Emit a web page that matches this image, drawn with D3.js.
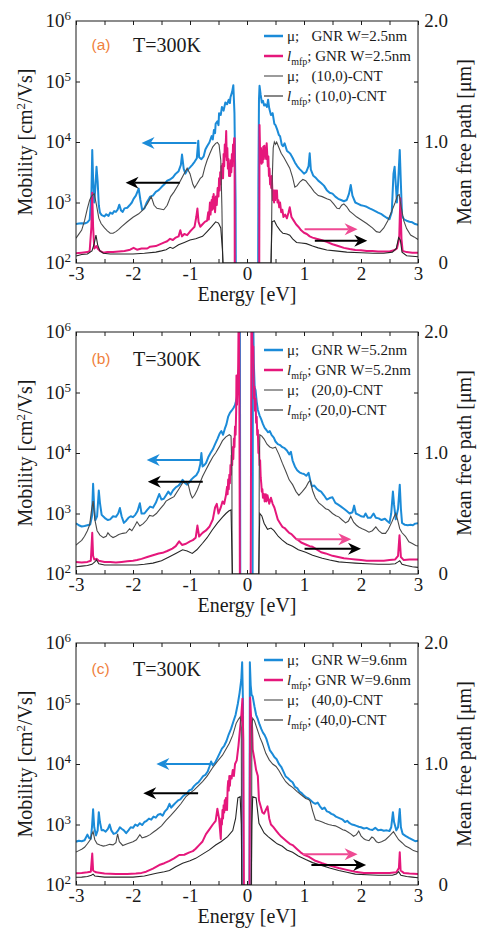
<!DOCTYPE html>
<html><head><meta charset="utf-8">
<script src="https://cdn.jsdelivr.net/npm/d3@7"></script>
<style>body{margin:0;background:#fff}svg{display:block}</style>
</head><body><svg id="c" width="481" height="929"></svg>
<script>
// ---------- DATA (energy [eV], mobility [cm^2/Vs] or mean free path [um]) ----------
const energyDomain = [-3, 3];
const muDomain = [1e2, 1e6];
const mfpDomain = [0, 2];
const xTicks = [-3,-2.5,-2,-1.5,-1,-0.5,0,0.5,1,1.5,2,2.5,3];
const muExponents = [2,3,4,5,6];
const mfpLabels = [0,1,2];
const panelTags = ["(a)","(b)","(c)"];
const gnrWidths = ["2.5nm","5.2nm","9.6nm"];
const cntNames = ["(10,0)-CNT","(20,0)-CNT","(40,0)-CNT"];
const tempLabel = "T=300K";

// Panel (a)
const muGnrA = [[-3,440],[-2.95,450],[-2.9,455],[-2.85,450],[-2.8,470],[-2.76,520],[-2.73,1300],[-2.715,7400],[-2.7,2500],[-2.68,1000],[-2.66,1800],[-2.64,3900],[-2.62,2200],[-2.6,900],[-2.58,680],[-2.55,620],[-2.5,590],[-2.47,640],[-2.43,600],[-2.4,680],[-2.36,650],[-2.33,720],[-2.3,700],[-2.27,760],[-2.24,920],[-2.21,740],[-2.18,700],[-2.15,800],[-2.1,820],[-2.06,900],[-2.02,1000],[-1.99,1150],[-1.95,1300],[-1.9,1700],[-1.87,1100],[-1.84,760],[-1.8,800],[-1.76,1000],[-1.72,1150],[-1.7,1250],[-1.65,1300],[-1.6,1500],[-1.55,1600],[-1.5,1800],[-1.45,2000],[-1.4,2300],[-1.35,2400],[-1.3,2600],[-1.25,3000],[-1.2,3300],[-1.16,4200],[-1.14,6200],[-1.11,3600],[-1.08,3000],[-1.05,3400],[-1,3800],[-0.96,4200],[-0.92,4700],[-0.88,5400],[-0.855,10500],[-0.84,5600],[-0.8,5200],[-0.76,5800],[-0.73,7500],[-0.7,8500],[-0.66,9800],[-0.62,12500],[-0.6,11000],[-0.58,15800],[-0.56,14000],[-0.55,20000],[-0.52,22000],[-0.5,19000],[-0.49,30000],[-0.46,28000],[-0.44,38000],[-0.41,33000],[-0.38,45000],[-0.35,42000],[-0.32,50000],[-0.3,44000],[-0.29,55000],[-0.26,68000],[-0.24,87000],[-0.22,30000],[-0.2,1000],[-0.19,1],null,
 [0.19,1],[0.2,2000],[0.21,50000],[0.22,85000],[0.24,60000],[0.26,45000],[0.28,48000],[0.3,40000],[0.32,42000],[0.35,38000],[0.37,50000],[0.39,36000],[0.42,28000],[0.45,30000],[0.48,20000],[0.5,19000],[0.53,16000],[0.56,13000],[0.58,12500],[0.61,9000],[0.63,8500],[0.66,9500],[0.7,7200],[0.73,6800],[0.76,6400],[0.8,5500],[0.84,4600],[0.88,4000],[0.92,3600],[0.96,3300],[1,3000],[1.04,3200],[1.08,4000],[1.1,6500],[1.12,3500],[1.16,2800],[1.2,2600],[1.25,2300],[1.3,2100],[1.35,1900],[1.4,1600],[1.45,1450],[1.5,1400],[1.55,1250],[1.6,1150],[1.65,1100],[1.7,1050],[1.75,1100],[1.79,1400],[1.82,1950],[1.85,1300],[1.9,1000],[1.95,950],[2,900],[2.05,880],[2.1,850],[2.15,800],[2.2,760],[2.25,720],[2.3,680],[2.35,650],[2.4,600],[2.45,560],[2.5,530],[2.54,700],[2.57,3000],[2.59,3900],[2.61,2000],[2.63,1000],[2.65,2000],[2.68,7400],[2.7,2000],[2.72,600],[2.76,520],[2.8,500],[2.85,480],[2.9,470],[2.95,440],[3,430]];
const mfpGnrA = [[-3,0.08],[-2.9,0.085],[-2.8,0.09],[-2.76,0.1],[-2.73,0.3],[-2.715,0.58],[-2.7,0.3],[-2.68,0.12],[-2.66,0.13],[-2.64,0.14],[-2.62,0.12],[-2.58,0.1],[-2.52,0.085],[-2.45,0.09],[-2.35,0.09],[-2.25,0.095],[-2.15,0.1],[-2.05,0.11],[-1.99,0.125],[-1.93,0.11],[-1.85,0.12],[-1.75,0.12],[-1.7,0.135],[-1.6,0.14],[-1.5,0.16],[-1.45,0.17],[-1.4,0.18],[-1.35,0.2],[-1.3,0.19],[-1.25,0.21],[-1.2,0.22],[-1.17,0.27],[-1.14,0.22],[-1.1,0.24],[-1.05,0.23],[-1,0.26],[-0.96,0.28],[-0.92,0.3],[-0.89,0.38],[-0.87,0.45],[-0.85,0.34],[-0.82,0.3],[-0.78,0.32],[-0.74,0.34],[-0.7,0.35],[-0.68,0.42],[-0.67,0.36],[-0.65,0.5],[-0.64,0.4],[-0.62,0.52],[-0.61,0.44],[-0.6,0.55],[-0.59,0.45],[-0.585,0.57],[-0.57,0.47],[-0.56,0.42],[-0.545,0.55],[-0.53,0.48],[-0.515,0.62],[-0.5,0.55],[-0.49,0.7],[-0.48,0.6],[-0.47,0.75],[-0.46,0.65],[-0.45,0.8],[-0.44,0.7],[-0.43,0.82],[-0.42,0.7],[-0.41,0.9],[-0.4,0.8],[-0.39,0.98],[-0.38,0.88],[-0.365,1.09],[-0.355,0.85],[-0.345,0.95],[-0.335,0.78],[-0.325,0.86],[-0.315,0.72],[-0.305,0.8],[-0.295,0.72],[-0.285,0.85],[-0.275,0.75],[-0.265,0.9],[-0.255,0.8],[-0.245,0.98],[-0.235,0.9],[-0.225,1.03],[-0.218,1.03],[-0.215,0],null,
 [0.215,0],[0.22,1.14],[0.228,0.95],[0.235,0.85],[0.245,0.95],[0.255,0.82],[0.265,0.93],[0.275,0.83],[0.285,0.96],[0.295,0.86],[0.305,0.97],[0.315,0.88],[0.325,0.95],[0.335,0.86],[0.345,0.99],[0.355,0.9],[0.365,0.8],[0.375,0.88],[0.385,0.72],[0.395,0.78],[0.405,0.65],[0.415,0.7],[0.425,0.62],[0.435,0.72],[0.445,0.6],[0.455,0.52],[0.465,0.6],[0.475,0.5],[0.485,0.6],[0.495,0.52],[0.505,0.6],[0.515,0.55],[0.525,0.6],[0.535,0.5],[0.55,0.52],[0.565,0.46],[0.58,0.5],[0.6,0.42],[0.62,0.44],[0.64,0.38],[0.67,0.4],[0.7,0.37],[0.73,0.42],[0.75,0.46],[0.78,0.38],[0.82,0.35],[0.86,0.32],[0.9,0.3],[0.95,0.27],[1,0.25],[1.05,0.24],[1.1,0.22],[1.15,0.21],[1.22,0.2],[1.3,0.19],[1.4,0.175],[1.5,0.155],[1.6,0.14],[1.7,0.125],[1.8,0.115],[1.9,0.107],[2,0.105],[2.1,0.1],[2.2,0.1],[2.3,0.095],[2.4,0.095],[2.5,0.095],[2.58,0.105],[2.63,0.12],[2.67,0.2],[2.69,0.535],[2.71,0.2],[2.73,0.1],[2.8,0.09],[2.9,0.085],[3,0.085]];
const muCntA = [[-3,256],[-2.95,300],[-2.9,350],[-2.85,500],[-2.8,800],[-2.76,1100],[-2.72,1300],[-2.68,1400],[-2.64,900],[-2.6,550],[-2.56,450],[-2.5,380],[-2.45,340],[-2.4,310],[-2.35,310],[-2.3,330],[-2.25,360],[-2.2,400],[-2.1,480],[-2,570],[-1.9,650],[-1.82,760],[-1.75,950],[-1.68,1250],[-1.63,900],[-1.58,800],[-1.52,780],[-1.46,760],[-1.4,900],[-1.34,1250],[-1.28,1500],[-1.2,2000],[-1.12,2800],[-1.05,3700],[-1,3000],[-0.95,2000],[-0.92,1750],[-0.88,2000],[-0.82,2500],[-0.78,2700],[-0.74,3800],[-0.7,5000],[-0.65,6500],[-0.6,8300],[-0.55,9500],[-0.52,9800],[-0.49,9000],[-0.46,5000],[-0.44,800],[-0.42,50],[-0.41,1],null,
 [0.41,1],[0.42,50],[0.44,2000],[0.46,8000],[0.48,10000],[0.5,9200],[0.52,10000],[0.55,8500],[0.6,6500],[0.65,5500],[0.7,4500],[0.75,3700],[0.8,2600],[0.84,1800],[0.88,1900],[0.93,2200],[0.98,2400],[1.03,2300],[1.08,2000],[1.12,1800],[1.18,1500],[1.25,1300],[1.32,1250],[1.4,1150],[1.46,1100],[1.52,950],[1.58,800],[1.62,790],[1.66,900],[1.7,950],[1.75,850],[1.8,720],[1.86,650],[1.92,580],[2,520],[2.1,450],[2.2,380],[2.27,330],[2.33,320],[2.4,380],[2.47,500],[2.54,720],[2.6,1000],[2.64,1300],[2.67,1350],[2.7,900],[2.75,500],[2.8,370],[2.87,290],[2.93,270],[3,245]];
const mfpCntA = [[-3,0.058],[-2.9,0.07],[-2.8,0.075],[-2.72,0.1],[-2.68,0.16],[-2.65,0.23],[-2.62,0.15],[-2.58,0.1],[-2.52,0.08],[-2.4,0.075],[-2.2,0.075],[-2,0.075],[-1.8,0.08],[-1.6,0.09],[-1.5,0.1],[-1.42,0.11],[-1.35,0.13],[-1.3,0.12],[-1.2,0.15],[-1.1,0.17],[-1,0.19],[-0.9,0.2],[-0.84,0.21],[-0.78,0.22],[-0.7,0.26],[-0.62,0.3],[-0.55,0.34],[-0.5,0.33],[-0.46,0.29],[-0.43,0.1],[-0.42,0],[0.42,0],[0.44,0.34],[0.48,0.35],[0.52,0.31],[0.58,0.27],[0.63,0.245],[0.7,0.24],[0.75,0.23],[0.8,0.2],[0.87,0.17],[0.95,0.165],[1.04,0.16],[1.15,0.14],[1.25,0.125],[1.4,0.107],[1.55,0.1],[1.75,0.09],[2,0.085],[2.22,0.08],[2.4,0.08],[2.55,0.09],[2.62,0.12],[2.66,0.21],[2.69,0.19],[2.72,0.09],[2.8,0.06],[3,0.052]];

// Panel (b)
const muGnrB = [[-3,690],[-2.95,640],[-2.9,610],[-2.85,620],[-2.8,640],[-2.75,660],[-2.72,900],[-2.7,3100],[-2.68,1200],[-2.66,780],[-2.63,900],[-2.6,2400],[-2.58,1500],[-2.55,950],[-2.52,890],[-2.48,820],[-2.44,780],[-2.4,800],[-2.35,900],[-2.3,880],[-2.26,1000],[-2.23,1230],[-2.2,900],[-2.16,700],[-2.12,760],[-2.08,850],[-2.04,900],[-2,870],[-1.96,950],[-1.92,1100],[-1.88,1480],[-1.85,1000],[-1.8,1000],[-1.75,1150],[-1.7,1300],[-1.65,1250],[-1.6,1500],[-1.54,2100],[-1.5,1700],[-1.46,1750],[-1.42,2000],[-1.38,2300],[-1.34,2050],[-1.3,2400],[-1.25,2700],[-1.2,2900],[-1.16,3200],[-1.13,3600],[-1.09,3200],[-1.05,3000],[-1.01,3300],[-0.97,3700],[-0.93,4000],[-0.89,4300],[-0.85,5000],[-0.82,6500],[-0.8,10000],[-0.78,6000],[-0.75,6300],[-0.72,6800],[-0.68,8500],[-0.64,10000],[-0.6,11500],[-0.56,14000],[-0.52,17000],[-0.48,21000],[-0.45,23000],[-0.42,20000],[-0.39,25000],[-0.36,30000],[-0.33,40000],[-0.3,46000],[-0.27,50000],[-0.24,55000],[-0.21,62000],[-0.18,80000],[-0.16,120000],[-0.14,300000],[-0.125,3e6],[-0.115,1],null,
 [0.095,1],[0.105,3e6],[0.12,300000],[0.135,120000],[0.15,110000],[0.17,70000],[0.19,52000],[0.22,42000],[0.25,36000],[0.28,30000],[0.31,26000],[0.34,24000],[0.37,22000],[0.4,23000],[0.43,20000],[0.47,18000],[0.5,15500],[0.54,14000],[0.58,13500],[0.62,12500],[0.66,12000],[0.7,11000],[0.74,9500],[0.77,10500],[0.8,7500],[0.84,6000],[0.88,5200],[0.92,4800],[0.96,4600],[1,4500],[1.04,4200],[1.08,4700],[1.11,3500],[1.14,2800],[1.18,2900],[1.22,2600],[1.26,2400],[1.3,2300],[1.35,2000],[1.4,1700],[1.45,1800],[1.5,1850],[1.55,1500],[1.6,1400],[1.65,1300],[1.7,1200],[1.75,1100],[1.8,1000],[1.85,1050],[1.88,1350],[1.91,1000],[1.96,950],[2,900],[2.05,880],[2.08,1000],[2.12,850],[2.17,850],[2.22,1000],[2.26,850],[2.31,830],[2.36,780],[2.42,820],[2.46,750],[2.5,700],[2.53,1000],[2.56,2300],[2.58,1400],[2.61,800],[2.65,1200],[2.68,3000],[2.7,1200],[2.72,700],[2.77,650],[2.82,640],[2.87,650],[2.91,640],[2.95,680],[3,690]];
const mfpGnrB = [[-3,0.1],[-2.9,0.095],[-2.8,0.1],[-2.74,0.11],[-2.715,0.34],[-2.7,0.15],[-2.68,0.12],[-2.64,0.125],[-2.6,0.11],[-2.5,0.1],[-2.4,0.1],[-2.3,0.095],[-2.2,0.1],[-2.1,0.105],[-2,0.11],[-1.93,0.115],[-1.85,0.125],[-1.75,0.14],[-1.65,0.155],[-1.55,0.17],[-1.48,0.175],[-1.4,0.19],[-1.31,0.21],[-1.25,0.23],[-1.19,0.27],[-1.14,0.24],[-1.07,0.25],[-1,0.27],[-0.95,0.28],[-0.9,0.3],[-0.87,0.4],[-0.84,0.31],[-0.78,0.34],[-0.72,0.36],[-0.66,0.39],[-0.6,0.45],[-0.56,0.55],[-0.53,0.58],[-0.5,0.5],[-0.46,0.55],[-0.43,0.6],[-0.4,0.58],[-0.37,0.65],[-0.35,0.72],[-0.34,0.66],[-0.33,0.78],[-0.32,0.7],[-0.31,0.82],[-0.3,0.75],[-0.29,0.9],[-0.28,0.82],[-0.27,0.98],[-0.26,0.9],[-0.25,1.05],[-0.24,0.95],[-0.23,1.12],[-0.22,1.05],[-0.21,1.22],[-0.2,1.15],[-0.19,1.35],[-0.185,1.64],[-0.175,1.4],[-0.165,1.55],[-0.155,1.7],[-0.14,2.5],[-0.125,0],null,
 [0.065,0],[0.08,2.5],[0.095,1.85],[0.11,1.88],[0.12,1.45],[0.13,1.55],[0.14,1.35],[0.15,1.45],[0.16,1.25],[0.17,1.3],[0.18,1.15],[0.19,1.19],[0.2,1],[0.21,1.05],[0.22,0.9],[0.23,0.94],[0.24,0.8],[0.25,0.75],[0.26,0.68],[0.27,0.7],[0.28,0.63],[0.3,0.66],[0.31,0.6],[0.33,0.66],[0.34,0.6],[0.36,0.65],[0.39,0.58],[0.42,0.63],[0.45,0.58],[0.48,0.55],[0.51,0.5],[0.54,0.45],[0.58,0.42],[0.62,0.39],[0.66,0.38],[0.7,0.36],[0.74,0.34],[0.78,0.33],[0.82,0.31],[0.86,0.29],[0.9,0.28],[0.95,0.26],[1,0.25],[1.05,0.24],[1.1,0.23],[1.15,0.225],[1.2,0.21],[1.3,0.18],[1.38,0.17],[1.5,0.15],[1.6,0.14],[1.7,0.13],[1.8,0.125],[1.9,0.12],[2,0.115],[2.1,0.11],[2.2,0.11],[2.3,0.11],[2.4,0.11],[2.5,0.115],[2.6,0.12],[2.65,0.15],[2.675,0.32],[2.7,0.14],[2.75,0.115],[2.85,0.12],[3,0.12]];
const muCntB = [[-3,300],[-2.95,330],[-2.9,360],[-2.85,420],[-2.8,520],[-2.76,650],[-2.73,1100],[-2.7,1600],[-2.67,800],[-2.63,520],[-2.58,440],[-2.52,400],[-2.47,420],[-2.44,480],[-2.4,430],[-2.35,400],[-2.3,420],[-2.25,450],[-2.18,470],[-2.12,480],[-2.06,560],[-2.02,520],[-1.97,620],[-1.93,730],[-1.88,620],[-1.82,680],[-1.76,780],[-1.71,930],[-1.65,900],[-1.59,1000],[-1.52,1200],[-1.46,1400],[-1.42,1600],[-1.35,1750],[-1.28,1900],[-1.2,2500],[-1.13,3200],[-1.07,3400],[-1.03,3000],[-0.99,2100],[-0.96,1800],[-0.92,2000],[-0.87,2500],[-0.82,3300],[-0.78,4100],[-0.72,5300],[-0.66,6800],[-0.6,8600],[-0.55,10000],[-0.49,12500],[-0.43,16000],[-0.37,18500],[-0.31,20000],[-0.28,19000],[-0.265,5000],[-0.255,1],null,
 [0.205,1],[0.215,5000],[0.225,20000],[0.26,19000],[0.3,17000],[0.35,14000],[0.4,12600],[0.45,12000],[0.5,12500],[0.56,9500],[0.62,6800],[0.68,5000],[0.74,3600],[0.8,3000],[0.86,2300],[0.91,2000],[0.97,2300],[1.03,2700],[1.08,3300],[1.11,3500],[1.15,2400],[1.2,1800],[1.26,1500],[1.32,1350],[1.38,1200],[1.43,1150],[1.5,1000],[1.56,920],[1.61,880],[1.67,780],[1.73,700],[1.78,750],[1.82,900],[1.87,720],[1.92,640],[1.96,600],[2.02,560],[2.08,530],[2.14,490],[2.2,520],[2.26,600],[2.31,520],[2.37,470],[2.43,470],[2.48,550],[2.54,720],[2.58,880],[2.61,1000],[2.64,800],[2.68,560],[2.72,480],[2.78,420],[2.84,340],[2.9,320],[2.96,295],[3,290]];
const mfpCntB = [[-3,0.06],[-2.9,0.065],[-2.8,0.07],[-2.72,0.08],[-2.67,0.1],[-2.64,0.116],[-2.6,0.085],[-2.5,0.075],[-2.3,0.074],[-2.1,0.074],[-1.93,0.075],[-1.8,0.08],[-1.65,0.09],[-1.5,0.11],[-1.36,0.143],[-1.25,0.17],[-1.13,0.2],[-1.05,0.19],[-0.96,0.17],[-0.88,0.2],[-0.78,0.254],[-0.7,0.3],[-0.61,0.364],[-0.52,0.42],[-0.43,0.47],[-0.37,0.5],[-0.32,0.52],[-0.28,0.53],[-0.265,0.2],[-0.255,0],[0.205,0],[0.215,0.3],[0.225,0.5],[0.26,0.48],[0.3,0.42],[0.36,0.37],[0.42,0.38],[0.47,0.36],[0.55,0.31],[0.62,0.28],[0.7,0.25],[0.8,0.23],[0.9,0.2],[1.03,0.18],[1.15,0.155],[1.32,0.13],[1.45,0.115],[1.61,0.1],[1.75,0.095],[1.9,0.09],[2.1,0.085],[2.3,0.08],[2.5,0.08],[2.6,0.085],[2.65,0.1],[2.68,0.11],[2.72,0.08],[2.8,0.07],[2.9,0.06],[3,0.055]];

// Panel (c)
const muGnrC = [[-3,520],[-2.95,540],[-2.9,530],[-2.85,550],[-2.8,680],[-2.77,600],[-2.74,580],[-2.72,900],[-2.7,1780],[-2.68,900],[-2.65,660],[-2.62,800],[-2.6,1600],[-2.58,1100],[-2.55,800],[-2.52,810],[-2.48,760],[-2.44,850],[-2.41,1000],[-2.38,800],[-2.34,700],[-2.3,720],[-2.26,800],[-2.23,900],[-2.2,850],[-2.16,800],[-2.12,720],[-2.08,800],[-2.04,900],[-2,880],[-1.96,1000],[-1.92,950],[-1.88,1050],[-1.84,980],[-1.8,1100],[-1.76,1150],[-1.72,1250],[-1.68,1200],[-1.64,1350],[-1.6,1300],[-1.56,1450],[-1.52,1500],[-1.48,1400],[-1.44,1650],[-1.4,1800],[-1.36,2200],[-1.33,1900],[-1.29,2100],[-1.25,2300],[-1.21,2500],[-1.17,2600],[-1.13,2900],[-1.09,3100],[-1.05,3300],[-1.01,3700],[-0.97,3800],[-0.93,4300],[-0.89,4700],[-0.85,5000],[-0.81,5600],[-0.77,6300],[-0.73,6600],[-0.69,7500],[-0.66,9000],[-0.63,11000],[-0.6,9500],[-0.56,10500],[-0.52,12500],[-0.48,15000],[-0.44,18000],[-0.4,20000],[-0.36,24000],[-0.32,31000],[-0.28,38000],[-0.24,50000],[-0.2,65000],[-0.16,100000],[-0.13,150000],[-0.1,250000],[-0.085,480000],[-0.07,100000],[-0.06,1],null,
 [0.04,1],[0.05,480000],[0.065,200000],[0.08,140000],[0.1,130000],[0.13,90000],[0.16,65000],[0.19,55000],[0.22,45000],[0.25,38000],[0.28,33000],[0.31,30000],[0.34,26000],[0.37,21000],[0.4,17000],[0.44,15000],[0.48,13000],[0.52,12000],[0.56,10000],[0.6,9000],[0.64,7500],[0.68,6200],[0.72,5800],[0.76,5300],[0.8,5000],[0.84,4200],[0.88,4000],[0.92,3500],[0.96,3300],[1,3000],[1.04,2800],[1.08,2700],[1.12,2500],[1.16,2300],[1.2,2200],[1.24,2300],[1.28,2000],[1.32,1800],[1.36,1900],[1.4,1650],[1.44,1600],[1.48,1500],[1.52,1450],[1.56,1350],[1.6,1300],[1.64,1250],[1.68,1200],[1.72,1100],[1.76,1150],[1.8,1050],[1.84,1000],[1.88,980],[1.92,950],[1.96,920],[2,900],[2.05,860],[2.1,880],[2.15,830],[2.2,810],[2.25,880],[2.3,800],[2.35,820],[2.4,790],[2.45,800],[2.5,780],[2.53,900],[2.56,1600],[2.58,1100],[2.62,800],[2.65,900],[2.68,1800],[2.7,900],[2.73,700],[2.78,650],[2.84,600],[2.9,560],[2.95,530],[3,540]];
const mfpGnrC = [[-3,0.097],[-2.9,0.1],[-2.8,0.105],[-2.74,0.11],[-2.715,0.26],[-2.7,0.12],[-2.65,0.105],[-2.5,0.095],[-2.3,0.09],[-2.1,0.09],[-1.95,0.095],[-1.85,0.1],[-1.77,0.11],[-1.65,0.135],[-1.54,0.165],[-1.45,0.18],[-1.36,0.2],[-1.28,0.22],[-1.19,0.248],[-1.1,0.25],[-1.01,0.27],[-0.95,0.28],[-0.9,0.3],[-0.84,0.33],[-0.78,0.36],[-0.72,0.42],[-0.66,0.46],[-0.6,0.5],[-0.55,0.53],[-0.52,0.63],[-0.49,0.55],[-0.46,0.38],[-0.45,0.55],[-0.44,0.5],[-0.43,0.62],[-0.42,0.55],[-0.41,0.66],[-0.4,0.6],[-0.39,0.7],[-0.38,0.62],[-0.37,0.72],[-0.36,0.68],[-0.35,0.62],[-0.34,0.8],[-0.33,0.86],[-0.32,0.78],[-0.31,0.9],[-0.3,0.82],[-0.29,0.9],[-0.27,0.88],[-0.25,0.95],[-0.23,0.9],[-0.21,1],[-0.18,1.03],[-0.15,1.15],[-0.12,1.3],[-0.1,1.4],[-0.08,1.54],[-0.065,1.2],[-0.055,0],null,
 [0.045,0],[0.055,1.55],[0.07,1.4],[0.09,1.3],[0.1,1.12],[0.13,1.04],[0.16,0.95],[0.19,0.9],[0.21,0.7],[0.24,0.65],[0.27,0.6],[0.3,0.59],[0.33,0.62],[0.36,0.65],[0.39,0.55],[0.42,0.5],[0.46,0.48],[0.51,0.45],[0.56,0.42],[0.6,0.4],[0.65,0.38],[0.7,0.36],[0.75,0.34],[0.8,0.33],[0.87,0.3],[0.94,0.27],[1,0.25],[1.08,0.234],[1.2,0.2],[1.32,0.18],[1.45,0.16],[1.61,0.14],[1.75,0.125],[1.9,0.11],[2.05,0.1],[2.2,0.1],[2.35,0.1],[2.5,0.1],[2.62,0.105],[2.665,0.14],[2.68,0.27],[2.695,0.12],[2.75,0.1],[2.85,0.095],[3,0.09]];
const muCntC = [[-3,350],[-2.95,370],[-2.9,390],[-2.85,420],[-2.8,480],[-2.75,560],[-2.72,700],[-2.7,760],[-2.67,560],[-2.63,480],[-2.58,460],[-2.52,440],[-2.47,450],[-2.41,470],[-2.35,460],[-2.3,500],[-2.27,700],[-2.24,520],[-2.18,450],[-2.1,480],[-2,520],[-1.94,560],[-1.88,680],[-1.84,600],[-1.77,630],[-1.7,680],[-1.64,750],[-1.59,810],[-1.5,950],[-1.42,1170],[-1.34,1400],[-1.25,1740],[-1.16,2200],[-1.07,2900],[-1,3300],[-0.93,3700],[-0.85,4400],[-0.78,5100],[-0.7,6300],[-0.61,8500],[-0.52,11000],[-0.43,14000],[-0.37,17500],[-0.31,22000],[-0.25,30000],[-0.19,47000],[-0.15,55000],[-0.12,60000],[-0.1,40000],[-0.09,1],null,
 [0.075,1],[0.085,40000],[0.1,57000],[0.13,52000],[0.19,35000],[0.23,27000],[0.27,22000],[0.33,15000],[0.39,11700],[0.45,10000],[0.51,9100],[0.56,7800],[0.62,6200],[0.68,5100],[0.74,4500],[0.8,4100],[0.88,3500],[0.95,3100],[1.03,2700],[1.08,2600],[1.11,2400],[1.15,1700],[1.2,1200],[1.26,1150],[1.32,1100],[1.37,1050],[1.43,1000],[1.49,970],[1.55,950],[1.62,880],[1.68,820],[1.72,800],[1.77,750],[1.82,700],[1.87,640],[1.92,680],[1.96,780],[2,650],[2.05,580],[2.08,560],[2.14,540],[2.19,620],[2.22,600],[2.27,520],[2.31,500],[2.36,520],[2.43,560],[2.5,650],[2.57,760],[2.62,640],[2.66,560],[2.72,500],[2.78,440],[2.85,410],[2.92,370],[3,350]];
const mfpCntC = [[-3,0.064],[-2.9,0.065],[-2.8,0.07],[-2.73,0.08],[-2.7,0.09],[-2.67,0.075],[-2.5,0.065],[-2.3,0.065],[-2,0.065],[-1.8,0.075],[-1.59,0.097],[-1.45,0.11],[-1.36,0.12],[-1.25,0.15],[-1.13,0.18],[-1,0.2],[-0.9,0.22],[-0.78,0.255],[-0.66,0.29],[-0.55,0.33],[-0.45,0.36],[-0.34,0.4],[-0.25,0.45],[-0.2,0.55],[-0.16,0.72],[-0.12,0.73],[-0.1,0.5],[-0.09,0],[0.075,0],[0.085,0.5],[0.1,0.73],[0.16,0.72],[0.21,0.51],[0.3,0.43],[0.37,0.4],[0.45,0.37],[0.53,0.34],[0.62,0.32],[0.7,0.29],[0.8,0.27],[0.9,0.24],[1.03,0.21],[1.15,0.185],[1.32,0.16],[1.45,0.14],[1.61,0.12],[1.75,0.105],[1.9,0.09],[2.1,0.085],[2.3,0.08],[2.45,0.08],[2.55,0.08],[2.62,0.09],[2.66,0.11],[2.7,0.08],[2.8,0.07],[2.9,0.065],[3,0.06]];

// Axis-pointing arrows: [fromE, toE, value] (mobility for left, mean free path for right)
const arrowsMuGnr = [[-0.886,-1.85,9600],[-0.80,-1.76,7650],[-0.62,-1.59,10000]];
const arrowsMuCnt = [[-1.18,-2.13,2120],[-0.776,-1.74,3360],[-0.858,-1.82,3300]];
const arrowsMfpGnr = [[1.01,1.94,0.279],[0.865,1.83,0.287],[0.98,1.94,0.254]];
const arrowsMfpCnt = [[1.19,2.11,0.184],[1.01,2.0,0.209],[1.13,2.09,0.165]];

const seriesMuGnr = [muGnrA, muGnrB, muGnrC];
const seriesMfpGnr = [mfpGnrA, mfpGnrB, mfpGnrC];
const seriesMuCnt = [muCntA, muCntB, muCntC];
const seriesMfpCnt = [mfpCntA, mfpCntB, mfpCntC];

// ---------- LAYOUT / STYLE ----------
const X0 = 76, X1 = 418, PH = 242;
const tops = [21, 332, 643];
const textDy = [0, 3, 2];
const BLUE = "#1b8bd8", PINK = "#e5177b", PINKA = "#ef4a93", ORANGE = "#f0803c", INK = "#1a1a1a";
const CNTMU = "#4a4a4a", CNTL = "#262626";
const serif = "'Liberation Serif','Times New Roman',serif";
const sans = "'Liberation Sans',Arial,sans-serif";

const svg = d3.select("#c");

function arrow(g, x1, x2, y, color) {
  const dir = Math.sign(x2 - x1);
  const L = 13, Hh = 6, N = 9;
  g.append("line").attr("x1", x1).attr("x2", x2 - dir * N).attr("y1", y).attr("y2", y)
    .attr("stroke", color).attr("stroke-width", 2);
  g.append("path")
    .attr("d", `M${x2},${y}L${x2 - dir * L},${y - Hh}L${x2 - dir * N},${y}L${x2 - dir * L},${y + Hh}Z`)
    .attr("fill", color);
}

panelTags.forEach((tag, i) => {
  const top = tops[i], bot = top + PH, dt = textDy[i];
  const x = d3.scaleLinear().domain(energyDomain).range([X0, X1]);
  const yMu = d3.scaleLog().domain(muDomain).range([bot, top]);
  const yL = d3.scaleLinear().domain(mfpDomain).range([bot, top]);
  const g = svg.append("g");

  const cid = "clip" + i;
  g.append("clipPath").attr("id", cid).append("rect")
    .attr("x", X0).attr("y", top).attr("width", X1 - X0).attr("height", PH);
  const cg = g.append("g").attr("clip-path", `url(#${cid})`);

  const lineMu = d3.line().defined(d => d !== null).x(d => x(d[0])).y(d => yMu(d[1]));
  const lineL = d3.line().defined(d => d !== null).x(d => x(d[0])).y(d => yL(d[1]));

  cg.append("path").attr("d", lineMu(seriesMuGnr[i])).attr("fill", "none").attr("stroke", BLUE).attr("stroke-width", 2).attr("stroke-linejoin", "round");
  cg.append("path").attr("d", lineL(seriesMfpGnr[i])).attr("fill", "none").attr("stroke", PINK).attr("stroke-width", 2).attr("stroke-linejoin", "round");
  cg.append("path").attr("d", lineMu(seriesMuCnt[i])).attr("fill", "none").attr("stroke", CNTMU).attr("stroke-width", 1.1);
  cg.append("path").attr("d", lineL(seriesMfpCnt[i])).attr("fill", "none").attr("stroke", CNTL).attr("stroke-width", 1.1);

  // arrows
  let a = arrowsMuGnr[i]; arrow(g, x(a[0]), x(a[1]), yMu(a[2]), BLUE);
  a = arrowsMuCnt[i]; arrow(g, x(a[0]), x(a[1]), yMu(a[2]), "#000");
  a = arrowsMfpGnr[i]; arrow(g, x(a[0]), x(a[1]), yL(a[2]), PINKA);
  a = arrowsMfpCnt[i]; arrow(g, x(a[0]), x(a[1]), yL(a[2]), "#000");

  // axes
  const styleAxis = s => { s.select(".domain").remove(); s.selectAll(".tick line").attr("stroke", INK); };
  g.append("g").attr("transform", `translate(0,${bot})`)
    .call(d3.axisBottom(x).tickValues(xTicks).tickSizeInner(-4).tickSizeOuter(0).tickPadding(4)
      .tickFormat(d => Number.isInteger(d) ? String(d) : ""))
    .call(styleAxis)
    .call(s => s.selectAll("text").attr("font-family", serif).attr("font-size", 19).attr("fill", INK));
  g.append("g").attr("transform", `translate(0,${top})`)
    .call(d3.axisTop(x).tickValues(xTicks).tickSizeInner(-4).tickSizeOuter(0).tickFormat(""))
    .call(styleAxis);
  g.append("g").attr("transform", `translate(${X0},0)`)
    .call(d3.axisLeft(yMu).tickValues([1e3, 1e4, 1e5]).tickSizeInner(-4).tickSizeOuter(0).tickFormat(""))
    .call(styleAxis);
  g.append("g").attr("transform", `translate(${X1},0)`)
    .call(d3.axisRight(yL).tickValues([0.5, 1, 1.5]).tickSizeInner(-4).tickSizeOuter(0).tickFormat(""))
    .call(styleAxis);

  g.append("rect").attr("x", X0).attr("y", top).attr("width", X1 - X0).attr("height", PH)
    .attr("fill", "none").attr("stroke", INK).attr("stroke-width", 1);

  // left tick labels 10^n
  muExponents.forEach(e => {
    const t = g.append("text").attr("x", 71).attr("y", yMu(Math.pow(10, e)) + 6)
      .attr("text-anchor", "end").attr("font-family", serif).attr("font-size", 19).attr("fill", INK);
    t.append("tspan").text("10");
    t.append("tspan").attr("dy", -7).attr("font-size", 13).text(String(e));
  });
  // right tick labels
  mfpLabels.forEach(v => {
    g.append("text").attr("x", 448).attr("y", yL(v) + 6).attr("text-anchor", "end")
      .attr("font-family", serif).attr("font-size", 19).attr("fill", INK)
      .text(v === 0 ? "0" : v.toFixed(1));
  });

  // axis titles
  g.append("text").attr("x", (X0 + X1) / 2).attr("y", bot + 37.5).attr("text-anchor", "middle")
    .attr("font-family", serif).attr("font-size", 20).attr("fill", INK).text("Energy [eV]");
  const ym = (top + bot) / 2;
  const lt = g.append("text").attr("transform", `translate(32,${ym}) rotate(-90)`).attr("text-anchor", "middle")
    .attr("font-family", serif).attr("font-size", 20).attr("fill", INK);
  lt.append("tspan").text("Mobility [cm");
  lt.append("tspan").attr("dy", -7).attr("font-size", 13).text("2");
  lt.append("tspan").attr("dy", 7).text("/Vs]");
  g.append("text").attr("transform", `translate(471,${ym}) rotate(-90)`).attr("text-anchor", "middle")
    .attr("font-family", serif).attr("font-size", 20).attr("fill", INK).text("Mean free path [μm]");

  // panel tag & temperature
  g.append("text").attr("x", 91.5).attr("y", top + 29 + dt).attr("font-family", sans).attr("font-size", 15.5)
    .attr("fill", ORANGE).text(tag);
  g.append("text").attr("x", 133).attr("y", top + 30.5 + dt).attr("font-family", serif).attr("font-size", 20)
    .attr("fill", INK).text(tempLabel);

  // legend
  const lx1 = 264, lx2 = 283, tx = 287;
  const rows = [
    {c: BLUE, w: 2.5, mu: true, rest: "GNR W=" + gnrWidths[i]},
    {c: PINK, w: 2.5, mu: false, rest: " GNR W=" + gnrWidths[i]},
    {c: CNTMU, w: 1.1, mu: true, rest: cntNames[i]},
    {c: CNTL, w: 1.1, mu: false, rest: " " + cntNames[i]}
  ];
  rows.forEach((r, k) => {
    const by = top + 20 + dt + k * 20;
    g.append("line").attr("x1", lx1).attr("x2", lx2).attr("y1", by - 5).attr("y2", by - 5)
      .attr("stroke", r.c).attr("stroke-width", r.w);
    if (r.mu) {
      g.append("text").attr("x", tx).attr("y", by).attr("font-family", serif).attr("font-size", 15)
        .attr("fill", INK).text("μ;");
      g.append("text").attr("x", tx + 24.5).attr("y", by).attr("font-family", serif).attr("font-size", 15)
        .attr("fill", INK).text(r.rest);
    } else {
      const t = g.append("text").attr("x", tx).attr("y", by).attr("font-family", serif).attr("font-size", 15).attr("fill", INK);
      t.append("tspan").attr("font-style", "italic").text("l");
      t.append("tspan").attr("dy", 4).attr("font-size", 10).text("mfp");
      t.append("tspan").attr("dy", -4).text(";" + r.rest);
    }
  });
});
</script></body></html>
